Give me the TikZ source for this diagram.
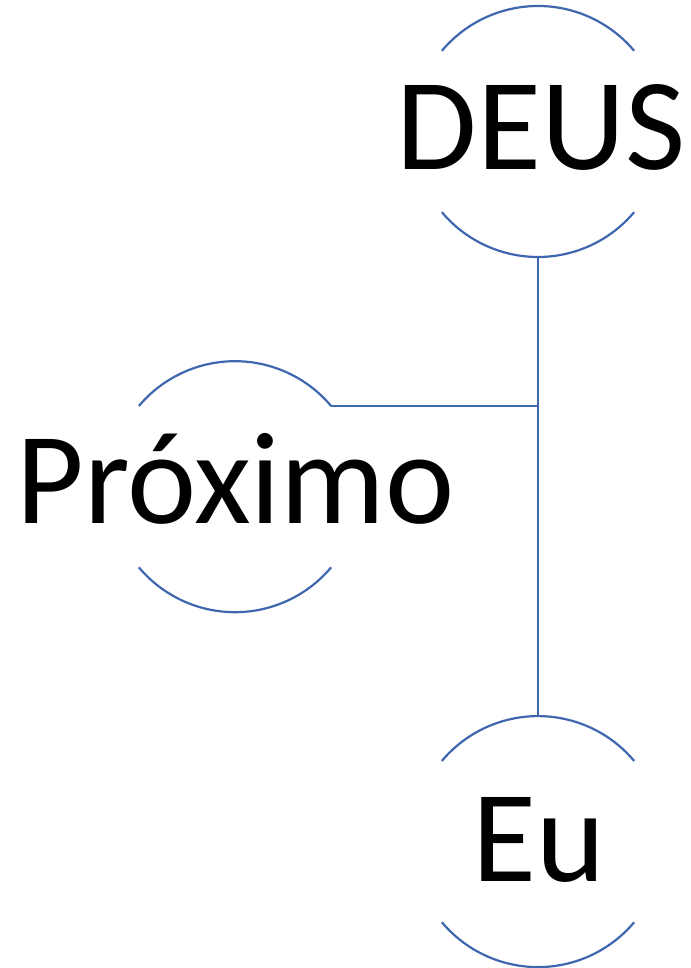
\documentclass[tikz,border=0pt]{standalone}
\usepackage{fontspec}
\setmainfont{Carlito}
\definecolor{linecol}{HTML}{3F67AF}
\begin{document}
\begin{tikzpicture}[x=1pt,y=1pt,
  ring/.style={circle,minimum size=251pt,inner sep=0pt,outer sep=0pt},
  arcline/.style={draw=linecol,line width=2.2pt},
  bigtext/.style={anchor=base,inner sep=0pt,font=\fontsize{131}{140}\selectfont}]
\useasboundingbox[fill=white] (0,0) rectangle (690,968);
\node[ring] (deus) at (538,836.5) {};
\node[ring] (prox) at (235,481.3) {};
\node[ring] (eu) at (538,126.4) {};
\foreach \n in {deus,prox,eu}{
  \draw[arcline] (\n.140) arc[start angle=140,end angle=40,radius=125.5pt];
  \draw[arcline] (\n.220) arc[start angle=220,end angle=320,radius=125.5pt];
}
\coordinate (joint) at (deus.south |- prox.40);
\draw[arcline] (deus.south) -- (eu.north);
\draw[arcline] (prox.40) -- (joint);
\node[bigtext] (tdeus) at (541,798) {DEUS};
\node[bigtext] (tprox) at (235.5,444) {Próximo};
\node[bigtext] (teu) at (538.7,86.3) {Eu};
\end{tikzpicture}
\end{document}
